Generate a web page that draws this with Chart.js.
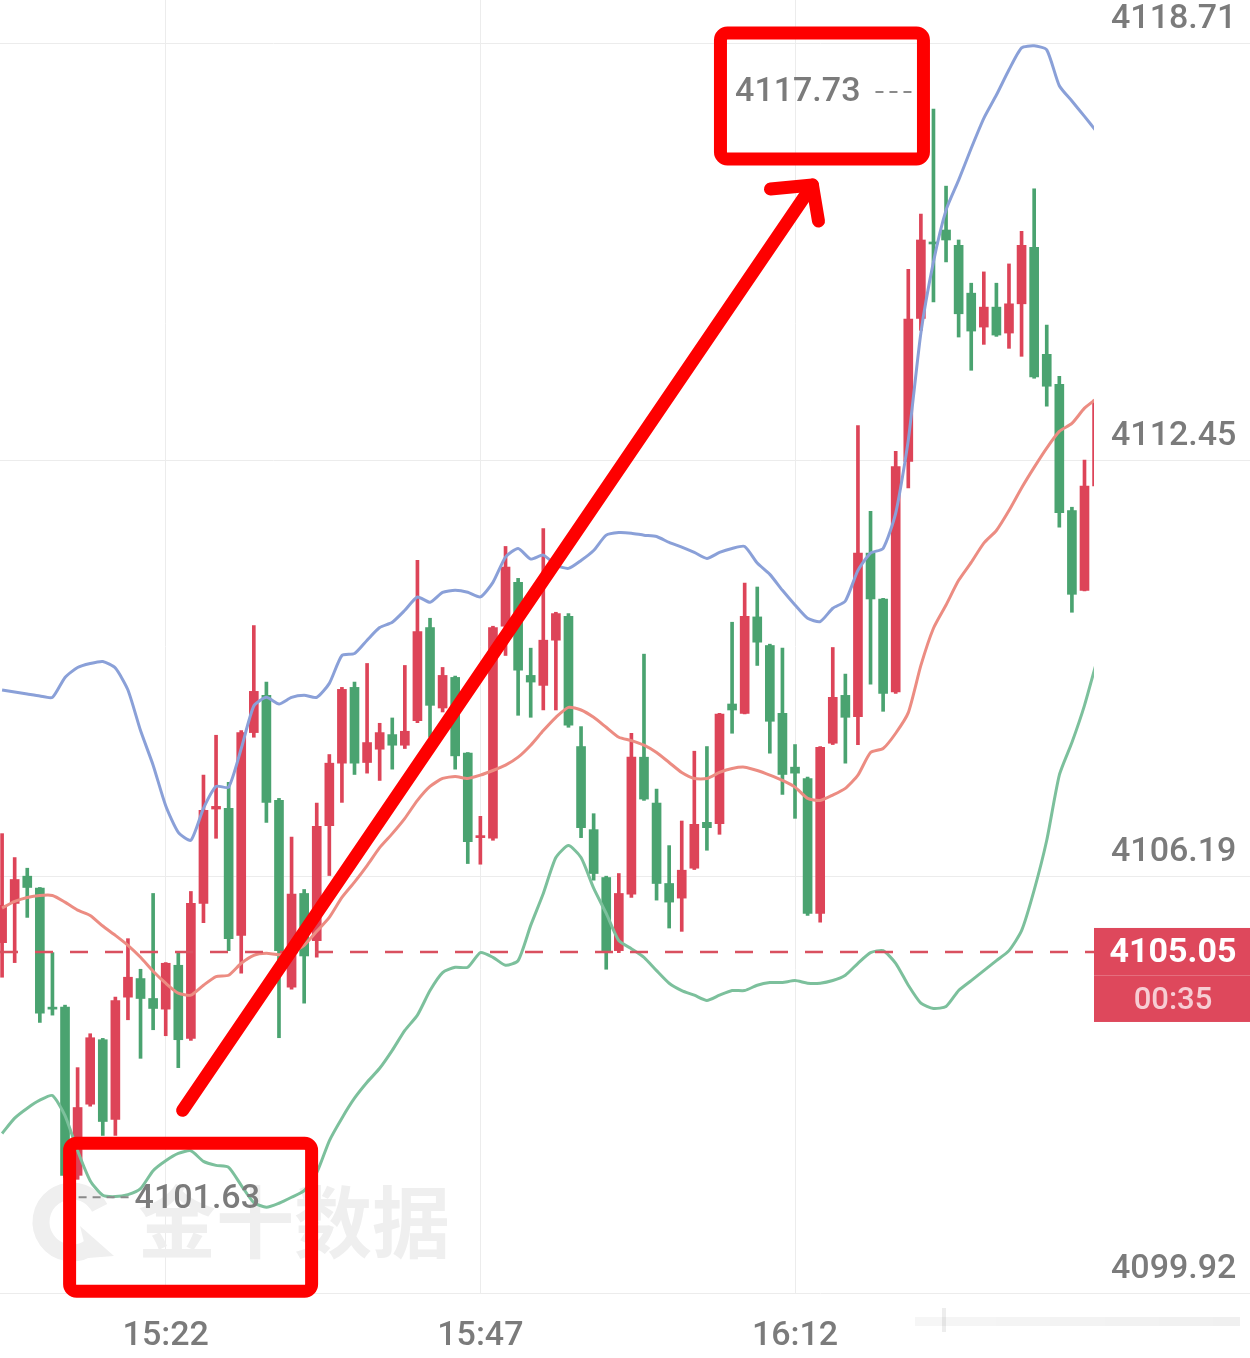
<!DOCTYPE html>
<html>
<head>
<meta charset="utf-8">
<script src="https://cdn.jsdelivr.net/npm/chart.js@4.4.1/dist/chart.umd.min.js"></script>
<style>
  html, body { margin: 0; padding: 0; background: #fff; }
  #wrap { width: 1250px; height: 1358px; position: relative; }
</style>
</head>
<body>
<div id="wrap"><canvas id="kline"></canvas></div>
<script>
// 1 minute candles, 15:09 - 16:36
var times = [
  '15:09','15:10','15:11','15:12','15:13','15:14','15:15','15:16','15:17','15:18',
  '15:19','15:20','15:21','15:22','15:23','15:24','15:25','15:26','15:27','15:28',
  '15:29','15:30','15:31','15:32','15:33','15:34','15:35','15:36','15:37','15:38',
  '15:39','15:40','15:41','15:42','15:43','15:44','15:45','15:46','15:47','15:48',
  '15:49','15:50','15:51','15:52','15:53','15:54','15:55','15:56','15:57','15:58',
  '15:59','16:00','16:01','16:02','16:03','16:04','16:05','16:06','16:07','16:08',
  '16:09','16:10','16:11','16:12','16:13','16:14','16:15','16:16','16:17','16:18',
  '16:19','16:20','16:21','16:22','16:23','16:24','16:25','16:26','16:27','16:28',
  '16:29','16:30','16:31','16:32','16:33','16:34','16:35','16:36'
];

var opens = [
  4105.19, 4105.78, 4106.19, 4106.01, 4104.22, 4104.22, 4101.69, 4102.76, 4103.73, 4102.53,
  4104.37, 4104.65, 4104.35, 4104.19, 4104.85, 4103.75, 4105.78, 4107.20, 4107.21, 4105.30,
  4108.35, 4108.91, 4107.33, 4104.52, 4105.93, 4105.22, 4106.95, 4107.89, 4109.03, 4107.90,
  4108.10, 4108.32, 4108.16, 4108.53, 4109.93, 4108.72, 4109.18, 4108.04, 4106.77, 4106.76,
  4109.95, 4110.61, 4109.21, 4109.06, 4109.74, 4110.10, 4108.14, 4106.89, 4106.17, 4105.07,
  4105.92, 4107.98, 4107.29, 4106.08, 4105.86, 4106.31, 4107.00, 4106.98, 4108.78, 4108.64,
  4110.09, 4109.66, 4108.64, 4107.83, 4107.66, 4105.63, 4108.19, 4108.91, 4108.59, 4111.05,
  4110.36, 4108.96, 4112.43, 4114.58, 4115.73, 4115.91, 4115.68, 4114.96, 4114.45, 4114.75,
  4114.36, 4114.80, 4115.65, 4114.04, 4113.59, 4111.69, 4110.49, 4112.06
];
var highs = [
  4106.83, 4106.47, 4106.31, 4106.02, 4105.04, 4104.25, 4103.31, 4103.82, 4103.75, 4104.37,
  4105.25, 4104.79, 4105.93, 4104.89, 4105.03, 4105.96, 4107.71, 4108.31, 4107.60, 4108.38,
  4109.96, 4109.11, 4107.36, 4106.78, 4105.99, 4107.29, 4108.02, 4109.03, 4109.11, 4109.39,
  4108.49, 4108.57, 4109.36, 4110.94, 4110.07, 4109.33, 4109.20, 4108.05, 4107.09, 4109.95,
  4111.15, 4110.67, 4109.62, 4111.42, 4110.16, 4110.14, 4108.44, 4107.13, 4106.19, 4106.23,
  4108.34, 4109.53, 4107.50, 4106.65, 4107.02, 4108.07, 4108.14, 4108.64, 4110.01, 4110.60,
  4110.54, 4109.68, 4109.62, 4108.17, 4107.68, 4108.14, 4109.63, 4109.23, 4112.97, 4111.68,
  4110.37, 4112.58, 4115.32, 4116.15, 4117.73, 4116.57, 4115.76, 4115.11, 4115.28, 4115.11,
  4115.40, 4115.89, 4116.53, 4114.48, 4113.71, 4111.74, 4112.45, 4113.38
];
var lows = [
  4104.67, 4104.89, 4105.57, 4103.99, 4104.10, 4101.66, 4101.63, 4102.73, 4102.29, 4102.29,
  4104.03, 4103.45, 4103.88, 4103.79, 4103.31, 4103.72, 4105.49, 4106.76, 4105.07, 4104.73,
  4108.28, 4107.00, 4103.76, 4104.49, 4104.28, 4104.97, 4106.20, 4107.30, 4107.72, 4107.74,
  4107.63, 4107.80, 4108.11, 4108.50, 4108.28, 4108.66, 4107.80, 4106.38, 4106.37, 4106.73,
  4109.51, 4108.61, 4108.58, 4108.69, 4108.69, 4108.43, 4106.77, 4106.13, 4104.79, 4105.04,
  4105.87, 4107.33, 4105.83, 4105.41, 4105.36, 4106.29, 4106.58, 4106.82, 4108.34, 4108.63,
  4109.36, 4108.04, 4107.42, 4107.06, 4105.60, 4105.50, 4108.17, 4107.89, 4108.17, 4109.08,
  4108.67, 4108.94, 4112.03, 4114.40, 4114.83, 4115.43, 4114.30, 4113.80, 4114.19, 4114.31,
  4114.13, 4114.01, 4113.68, 4113.26, 4111.44, 4110.16, 4110.48, 4112.04
];
var closes = [
  4105.75, 4106.14, 4106.02, 4104.13, 4104.19, 4101.69, 4102.71, 4103.76, 4102.50, 4104.32,
  4104.67, 4104.35, 4104.20, 4104.88, 4103.73, 4105.78, 4107.18, 4107.24, 4105.25, 4108.35,
  4108.97, 4107.30, 4105.07, 4105.92, 4104.99, 4106.94, 4107.89, 4109.00, 4107.89, 4108.20,
  4108.35, 4108.16, 4108.37, 4109.87, 4108.76, 4109.21, 4108.00, 4106.71, 4106.80, 4109.93,
  4110.84, 4109.29, 4109.11, 4109.74, 4110.14, 4108.46, 4106.92, 4106.23, 4105.04, 4105.93,
  4107.98, 4107.35, 4106.08, 4105.80, 4106.28, 4106.97, 4106.92, 4108.63, 4108.69, 4110.10,
  4109.71, 4108.52, 4107.72, 4107.74, 4105.63, 4108.13, 4108.88, 4108.58, 4111.05, 4110.36,
  4108.94, 4112.35, 4114.57, 4115.76, 4115.70, 4115.76, 4114.65, 4114.39, 4114.75, 4114.33,
  4114.80, 4115.68, 4113.70, 4113.56, 4111.66, 4110.43, 4112.06, 4113.35
];

// Bollinger bands
var upperBand = [
  4108.99, 4108.96, 4108.93, 4108.90, 4108.88, 4109.18, 4109.33, 4109.39, 4109.42, 4109.32,
  4108.99, 4108.38, 4107.86, 4107.25, 4106.85, 4106.73, 4107.21, 4107.54, 4107.53, 4108.11,
  4108.75, 4108.88, 4108.78, 4108.88, 4108.91, 4108.88, 4109.09, 4109.51, 4109.54, 4109.74,
  4109.93, 4110.01, 4110.19, 4110.39, 4110.31, 4110.46, 4110.49, 4110.46, 4110.39, 4110.61,
  4110.99, 4111.12, 4110.96, 4111.02, 4110.87, 4110.82, 4110.94, 4111.09, 4111.32, 4111.36,
  4111.35, 4111.32, 4111.30, 4111.21, 4111.14, 4111.06, 4110.97, 4111.06, 4111.12, 4111.15,
  4110.90, 4110.73, 4110.49, 4110.27, 4110.07, 4110.02, 4110.22, 4110.33, 4110.79, 4111.05,
  4111.12, 4111.65, 4112.75, 4114.36, 4115.43, 4116.21, 4116.66, 4117.14, 4117.59, 4117.94,
  4118.32, 4118.65, 4118.68, 4118.62, 4118.08, 4117.85, 4117.62, 4117.38
];
var midBand = [
  4105.71, 4105.81, 4105.87, 4105.90, 4105.90, 4105.80, 4105.68, 4105.60, 4105.44, 4105.30,
  4105.15, 4104.97, 4104.76, 4104.58, 4104.43, 4104.40, 4104.55, 4104.68, 4104.70, 4104.88,
  4105.00, 4105.03, 4105.01, 4105.04, 4105.15, 4105.36, 4105.57, 4105.87, 4106.10, 4106.35,
  4106.62, 4106.83, 4107.06, 4107.33, 4107.54, 4107.66, 4107.69, 4107.66, 4107.71, 4107.78,
  4107.86, 4107.98, 4108.16, 4108.38, 4108.58, 4108.73, 4108.69, 4108.58, 4108.43, 4108.28,
  4108.23, 4108.16, 4108.05, 4107.90, 4107.75, 4107.66, 4107.66, 4107.75, 4107.81, 4107.83,
  4107.78, 4107.71, 4107.63, 4107.53, 4107.36, 4107.33, 4107.41, 4107.51, 4107.71, 4108.05,
  4108.11, 4108.34, 4108.65, 4109.36, 4109.92, 4110.27, 4110.64, 4110.91, 4111.20, 4111.39,
  4111.69, 4112.03, 4112.34, 4112.63, 4112.88, 4113.00, 4113.23, 4113.38
];
var lowerBand = [
  4102.32, 4102.55, 4102.70, 4102.82, 4102.89, 4102.59, 4102.06, 4101.61, 4101.39, 4101.37,
  4101.40, 4101.49, 4101.76, 4101.91, 4102.02, 4102.06, 4101.90, 4101.84, 4101.81, 4101.54,
  4101.28, 4101.21, 4101.27, 4101.36, 4101.46, 4101.73, 4102.21, 4102.55, 4102.85, 4103.09,
  4103.30, 4103.57, 4103.87, 4104.10, 4104.47, 4104.74, 4104.82, 4104.82, 4105.04, 4104.97,
  4104.85, 4104.92, 4105.45, 4105.93, 4106.47, 4106.65, 4106.47, 4106.01, 4105.63, 4105.22,
  4105.10, 4104.97, 4104.77, 4104.58, 4104.47, 4104.40, 4104.32, 4104.40, 4104.47, 4104.47,
  4104.55, 4104.59, 4104.59, 4104.62, 4104.58, 4104.58, 4104.62, 4104.70, 4104.88, 4105.04,
  4105.07, 4104.88, 4104.55, 4104.28, 4104.20, 4104.23, 4104.47, 4104.62, 4104.77, 4104.92,
  4105.07, 4105.37, 4105.98, 4106.73, 4107.71, 4108.20, 4108.76, 4109.44
];

var timeTicks = ['15:22', '15:47', '16:12'];
var priceTicks = [4099.92, 4106.19, 4112.45, 4118.71];
var lastPrice = 4105.05;
var countdown = '00:35';
var highMark = 4117.73;
var lowMark = 4101.63;

var UP = '#dd4458';
var DOWN = '#4aa370';
var AXIS_FONT = { family: 'Roboto', size: 34, weight: '500' };
var GRID = '#ececec';

var candleColors = closes.map(function (c, i) { return c >= opens[i] ? UP : DOWN; });

function pts(arr) {
  return arr.map(function (v, i) { return { x: i, y: v }; });
}

var overlay = {
  id: 'overlay',
  beforeDatasetsDraw: function (chart) {
    // faint 金十数据 watermark
    var ctx = chart.ctx, a = chart.chartArea;
    ctx.save();
    ctx.fillStyle = '#efefef';
    ctx.strokeStyle = '#efefef';
    var cx = a.left + 72, cy = a.bottom - 71;
    ctx.lineWidth = 17;
    ctx.beginPath();
    ctx.arc(cx, cy, 31, 0.3 * Math.PI, 1.85 * Math.PI);
    ctx.stroke();
    ctx.beginPath();
    ctx.moveTo(cx + 8, cy + 4);
    ctx.lineTo(cx + 42, cy + 34);
    ctx.lineTo(cx + 16, cy + 36);
    ctx.closePath();
    ctx.fill();
    ctx.font = 'bold 78px "Noto Sans CJK SC"';
    ctx.textBaseline = 'middle';
    ctx.textAlign = 'left';
    ctx.fillText('金十数据', a.left + 138, cy);
    ctx.restore();
  },
  afterDatasetsDraw: function (chart) {
    var ctx = chart.ctx, a = chart.chartArea;
    var xs = chart.scales.x, ys = chart.scales.y;
    ctx.save();
    // last price dashed line
    var py = ys.getPixelForValue(lastPrice);
    ctx.strokeStyle = '#d9505f';
    ctx.lineWidth = 2.5;
    ctx.setLineDash([18, 17]);
    ctx.beginPath();
    ctx.moveTo(a.left, py);
    ctx.lineTo(a.right, py);
    ctx.stroke();

    // high / low markers
    var hiIdx = highs.indexOf(highMark), loIdx = lows.indexOf(lowMark);
    var hx = xs.getPixelForValue(hiIdx), hy = ys.getPixelForValue(highMark);
    var lx = xs.getPixelForValue(loIdx), ly = ys.getPixelForValue(lowMark);
    ctx.strokeStyle = '#8a8a8a';
    ctx.lineWidth = 2;
    ctx.setLineDash([8, 6]);
    ctx.beginPath();
    ctx.moveTo(hx - 58, hy - 17);
    ctx.lineTo(hx - 16, hy - 17);
    ctx.moveTo(lx + 1, ly + 18);
    ctx.lineTo(lx + 55, ly + 18);
    ctx.stroke();
    ctx.setLineDash([]);
    ctx.fillStyle = '#7b7b7b';
    ctx.font = '500 34px Roboto';
    ctx.textBaseline = 'middle';
    ctx.textAlign = 'right';
    ctx.fillText(highMark.toFixed(2), hx - 73, hy - 17);
    ctx.textAlign = 'left';
    ctx.fillText(lowMark.toFixed(2), lx + 57, ly + 20);
    ctx.restore();
  },
  afterDraw: function (chart) {
    var ctx = chart.ctx, a = chart.chartArea;
    var xs = chart.scales.x, ys = chart.scales.y;
    ctx.save();
    // last price tag on the axis
    var py = ys.getPixelForValue(lastPrice);
    ctx.fillStyle = '#de485c';
    ctx.fillRect(a.right, py - 24, chart.width - a.right, 94);
    ctx.fillStyle = 'rgba(255,255,255,0.22)';
    ctx.fillRect(a.right, py + 23, chart.width - a.right, 1);
    ctx.textAlign = 'center';
    ctx.textBaseline = 'middle';
    ctx.fillStyle = '#ffffff';
    ctx.font = 'bold 34px Roboto';
    var tx = (a.right + chart.width) / 2 + 1;
    ctx.fillText(lastPrice.toFixed(2), tx, py + 2);
    ctx.fillStyle = '#f7cdd3';
    ctx.font = '500 31px Roboto';
    ctx.fillText(countdown, tx, py + 49);

    // red hand-drawn annotations
    var hiIdx = highs.indexOf(highMark), loIdx = lows.indexOf(lowMark);
    var hx = xs.getPixelForValue(hiIdx), hy = ys.getPixelForValue(highMark);
    var lx = xs.getPixelForValue(loIdx), ly = ys.getPixelForValue(lowMark);
    ctx.strokeStyle = '#fe0000';
    ctx.lineWidth = 13;
    ctx.lineJoin = 'round';
    ctx.lineCap = 'round';
    ctx.beginPath();
    ctx.roundRect(hx - 213, hy - 76, 203, 126, 7);
    ctx.stroke();
    ctx.beginPath();
    ctx.roundRect(lx - 8, ly - 36, 242, 148, 7);
    ctx.stroke();
    var t0x = lx + 105, t0y = ly - 69;
    var t1x = hx - 121, t1y = hy + 76;
    ctx.beginPath();
    ctx.moveTo(t0x, t0y);
    ctx.lineTo(t1x, t1y);
    ctx.stroke();
    ctx.beginPath();
    ctx.moveTo(t1x - 42, t1y + 4);
    ctx.lineTo(t1x, t1y);
    ctx.lineTo(t1x + 6, t1y + 36);
    ctx.stroke();

    // faint scroll strip bottom right
    var g = ctx.createLinearGradient(915, 0, 1240, 0);
    g.addColorStop(0, 'rgba(0,0,0,0.035)');
    g.addColorStop(1, 'rgba(0,0,0,0.06)');
    ctx.fillStyle = g;
    ctx.fillRect(915, 1317, 325, 9);
    ctx.fillStyle = 'rgba(0,0,0,0.07)';
    ctx.fillRect(942, 1308, 4, 24);
    ctx.restore();
  }
};

new Chart(document.getElementById('kline'), {
  type: 'bar',
  data: {
    datasets: [
      {
        type: 'line', label: 'UP', data: pts(upperBand),
        borderColor: '#8aa0d8', borderWidth: 3, pointRadius: 0, tension: 0.2, order: 0
      },
      {
        type: 'line', label: 'MB', data: pts(midBand),
        borderColor: '#ec8c82', borderWidth: 3, pointRadius: 0, tension: 0.2, order: 0
      },
      {
        type: 'line', label: 'DN', data: pts(lowerBand),
        borderColor: '#7cc09c', borderWidth: 3, pointRadius: 0, tension: 0.2, order: 0
      },
      {
        label: 'body',
        data: opens.map(function (o, i) { return { x: i, y: [o, closes[i]] }; }),
        backgroundColor: candleColors, barThickness: 9, minBarLength: 2, grouped: false, order: 1
      },
      {
        label: 'wick',
        data: lows.map(function (l, i) { return { x: i, y: [l, highs[i]] }; }),
        backgroundColor: candleColors, barThickness: 3, grouped: false, order: 2
      }
    ]
  },
  options: {
    responsive: true,
    maintainAspectRatio: false,
    animation: false,
    layout: { padding: 0 },
    plugins: {
      legend: { display: false },
      tooltip: { enabled: false }
    },
    scales: {
      x: {
        type: 'linear',
        min: -0.166,
        max: 86.755,
        offset: false,
        afterBuildTicks: function (scale) {
          scale.ticks = timeTicks.map(function (t) { return { value: times.indexOf(t) }; });
        },
        afterFit: function (scale) { scale.height = 65; },
        grid: { color: GRID, drawTicks: false, offset: false },
        border: { display: false },
        ticks: {
          autoSkip: false,
          maxRotation: 0,
          padding: 23,
          color: '#7b7b7b',
          font: AXIS_FONT,
          callback: function (v) { return times[v]; }
        }
      },
      y: {
        position: 'right',
        min: 4099.92,
        max: 4119.37,
        afterBuildTicks: function (scale) {
          scale.ticks = priceTicks.map(function (v) { return { value: v }; });
        },
        afterFit: function (scale) { scale.width = 156; },
        grid: { color: GRID, drawTicks: true, tickLength: 156 },
        border: { display: false },
        ticks: {
          padding: -139,
          labelOffset: -24,
          color: '#7b7b7b',
          font: AXIS_FONT,
          callback: function (v) { return v.toFixed(2); }
        }
      }
    }
  },
  plugins: [overlay]
});
</script>
</body>
</html>
